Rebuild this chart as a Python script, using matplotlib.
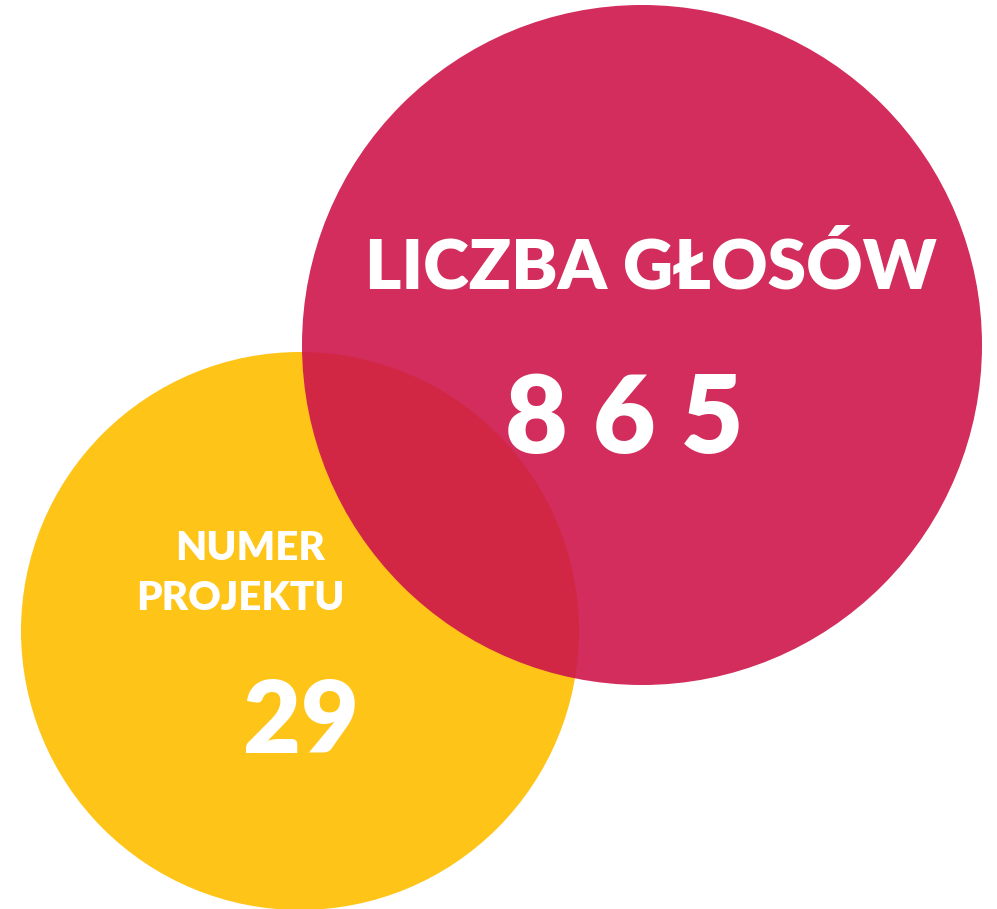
import matplotlib
matplotlib.use("Agg")
from matplotlib import pyplot as plt
import matplotlib.patches

# circles: (cx, cy, r) in pixel coords of the 997x909 picture
circle_names = ["numer", "glosy"]
circle_centers = [(300, 631), (642, 345)]
circle_radii = [279, 340]
circle_colors = ["#FEC418", "#CD164A"]
circle_alpha = [1.0, 0.9]

label_numer = ["NUMER", "PROJEKTU"]
label_glosy = "LICZBA GŁOSÓW"
values = ["29", "865"]

fig = plt.figure(figsize=(9.97, 9.09), dpi=100)
ax = fig.add_axes([0, 0, 1, 1])
ax.set_xlim(0, 997)
ax.set_ylim(909, 0)
ax.set_aspect("equal")
ax.axis("off")

for c, r, col, a in zip(circle_centers, circle_radii, circle_colors, circle_alpha):
    ax.add_patch(matplotlib.patches.Circle(c, r, color=col, alpha=a, lw=0))

font = dict(family=["Lato", "DejaVu Sans"], weight="heavy", color="white")

# yellow circle texts
ax.text(250, 548, label_numer[0], ha="center", va="center", fontsize=29, **font)
ax.text(240, 598, label_numer[1], ha="center", va="center", fontsize=29, **font)
ax.text(301, 724, values[0], ha="center", va="center", fontsize=72, **font)

# red circle texts
ax.text(651, 268, label_glosy, ha="center", va="center", fontsize=50, **font)
ax.text(624, 422, " ".join(values[1]), ha="center", va="center", fontsize=78, **font)

fig.savefig("out.png", dpi=100)
